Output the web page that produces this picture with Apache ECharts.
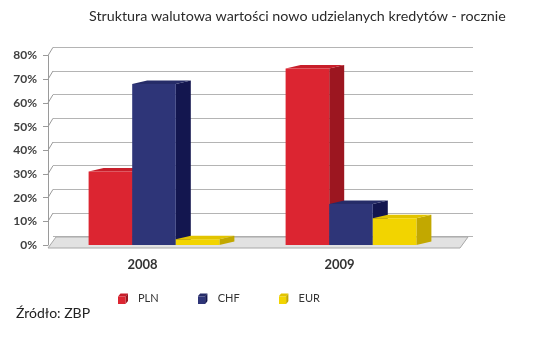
<!DOCTYPE html>
<html>
<head>
<meta charset="utf-8">
<script src="https://cdn.jsdelivr.net/npm/echarts@6/dist/echarts.min.js"></script>
<style>
  html, body { margin: 0; padding: 0; background: #ffffff; }
  #chart { width: 550px; height: 341px; }
</style>
</head>
<body>
<div id="chart"></div>
<script>
// Currency structure of newly granted loans (share of value, %)
const years = ['2008', '2009'];
const plnShare = [31, 74.5];
const chfShare = [68, 17.3];
const eurShare = [2.4, 11.3];
const seriesNames = ['PLN', 'CHF', 'EUR'];
const valueTicks = [0, 10, 20, 30, 40, 50, 60, 70, 80];

// Face colours of the shaded columns: front, top, side
const palette = {
  PLN: { front: '#dc2531', top: '#c81e2a', side: '#9c1620' },
  CHF: { front: '#2e3578', top: '#262c68', side: '#13164f' },
  EUR: { front: '#f2d400', top: '#e2c400', side: '#c2a800' }
};

const DEPTH_X = 15, DEPTH_Y = -3.5;     // column depth
const WALL_X = 5, WALL_Y = -8.3;        // back wall offset from the front plane
const FONT = 'Lato, "Open Sans", sans-serif';

function cubeIcon(c) {
  const svg =
    '<svg xmlns="http://www.w3.org/2000/svg" width="10" height="11" viewBox="0 0 10 11">' +
    '<path d="M0 3.5 L2.5 0.5 L10 0.5 L7.5 3.5 Z" fill="' + c.top + '"/>' +
    '<path d="M7.5 3.5 L10 0.5 L10 8 L7.5 11 Z" fill="' + c.side + '"/>' +
    '<rect x="0" y="3.5" width="7.5" height="7.5" fill="' + c.front + '"/>' +
    '</svg>';
  return 'image://data:image/svg+xml;charset=utf-8,' + encodeURIComponent(svg);
}

// One shaded column per data item
function columnRenderer(k, colors) {
  return function (params, api) {
    const idx = api.value(0);
    const v = api.value(1);
    const band = api.size([1, 0])[0];
    const barW = band * 0.2213;
    const center = api.coord([idx, 0])[0];
    const xl = center + (k - 1.5) * barW;
    const xr = xl + barW;
    const yb = api.coord([idx, 0])[1];
    const yt = api.coord([idx, v])[1];
    return {
      type: 'group',
      children: [
        { type: 'polygon', shape: { points: [[xr, yt], [xr + DEPTH_X, yt + DEPTH_Y], [xr + DEPTH_X, yb + DEPTH_Y], [xr, yb]] },
          style: { fill: colors.side } },
        { type: 'polygon', shape: { points: [[xl, yt], [xl + DEPTH_X, yt + DEPTH_Y], [xr + DEPTH_X, yt + DEPTH_Y], [xr, yt]] },
          style: { fill: colors.top } },
        { type: 'rect', shape: { x: xl, y: yt, width: barW, height: yb - yt },
          style: { fill: colors.front } }
      ]
    };
  };
}

const chart = echarts.init(document.getElementById('chart'), null, { renderer: 'canvas' });

const barSeries = seriesNames.map(function (name, k) {
  const vals = [plnShare, chfShare, eurShare][k];
  return {
    name: name,
    type: 'custom',
    xAxisIndex: 1,
    yAxisIndex: 1,
    z: 5 + k,
    renderItem: columnRenderer(k, palette[name]),
    encode: { x: 0, y: 1 },
    data: years.map(function (y, i) { return [i, vals[i]]; })
  };
});

chart.setOption({
  animation: false,
  backgroundColor: '#ffffff',
  title: {
    text: 'Struktura walutowa wartości nowo udzielanych kredytów - rocznie',
    left: 89, top: 9, padding: 0,
    textStyle: { fontFamily: FONT, fontSize: 14.3, fontWeight: 'normal', color: '#2b2b2b' }
  },
  legend: {
    left: 118, top: 293, padding: 0,
    itemWidth: 10, itemHeight: 11, itemGap: 39,
    data: seriesNames.map(function (n) { return { name: n, icon: cubeIcon(palette[n]) }; }),
    textStyle: { fontFamily: FONT, fontSize: 11, color: '#333333', padding: [0, 0, 0, 5] }
  },
  graphic: [{
    type: 'text', left: 16, top: 306,
    style: { text: 'Źródło: ZBP', fontFamily: FONT, fontSize: 14, fill: '#222222' }
  }],
  grid: [
    { left: 48, width: 412, top: 55.6, height: 189.4 },   // front plane
    { left: 55.5, width: 394, top: 55.6, height: 189.4 }, // columns
    { left: 53, width: 420, top: 47.3, height: 189.4 }    // back wall
  ],
  xAxis: [
    { gridIndex: 0, type: 'category', data: years, show: false },
    { gridIndex: 1, type: 'category', data: years,
      axisLine: { show: false }, axisTick: { show: false },
      axisLabel: { margin: 13, padding: [0, 23, 0, 0], fontFamily: FONT, fontSize: 13, fontWeight: 'bold', color: '#333333' } },
    { gridIndex: 2, type: 'category', data: years, show: false }
  ],
  yAxis: [
    { gridIndex: 0, type: 'value', min: 0, max: 80, interval: 10,
      axisLine: { show: true, lineStyle: { color: '#9a9a9a' } },
      axisTick: { show: true, length: 5, lineStyle: { color: '#9a9a9a' } },
      splitLine: { show: false },
      axisLabel: { margin: 11, fontFamily: FONT, fontSize: 12, fontWeight: 'bold', color: '#404040',
        formatter: function (v) { return v + '%'; } } },
    { gridIndex: 1, type: 'value', min: 0, max: 80, interval: 10, show: false, splitLine: { show: false } },
    { gridIndex: 2, type: 'value', min: 0, max: 80, interval: 10,
      axisLine: { show: false }, axisTick: { show: false }, axisLabel: { show: false },
      splitLine: { show: true, lineStyle: { color: '#b4b4b4', width: 1 } } }
  ],
  series: [
    // side-wall lines linking the value ticks to the back wall
    {
      type: 'custom', xAxisIndex: 0, yAxisIndex: 0, z: 2, silent: true,
      renderItem: function (params, api) {
        const cs = params.coordSys;
        const y = api.coord([0, api.value(0)])[1];
        return { type: 'line', shape: { x1: cs.x, y1: y, x2: cs.x + WALL_X, y2: y + WALL_Y },
          style: { stroke: '#9a9a9a', lineWidth: 1 } };
      },
      encode: { y: 0 },
      data: valueTicks.slice(1).map(function (t) { return [t]; })
    },
    // floor
    {
      type: 'custom', xAxisIndex: 0, yAxisIndex: 0, z: 3, silent: true,
      renderItem: function (params, api) {
        const cs = params.coordSys;
        const yf = cs.y + cs.height + 3;
        const yb = cs.y + cs.height - 8;
        return { type: 'polygon',
          shape: { points: [[cs.x, yf], [cs.x + 8, yb], [cs.x + cs.width + 8, yb], [cs.x + cs.width, yf]] },
          style: { fill: '#e2e2e2', stroke: '#a8a8a8', lineWidth: 1 } };
      },
      encode: { y: 0 },
      data: [[0]]
    }
  ].concat(barSeries)
});
</script>
</body>
</html>
